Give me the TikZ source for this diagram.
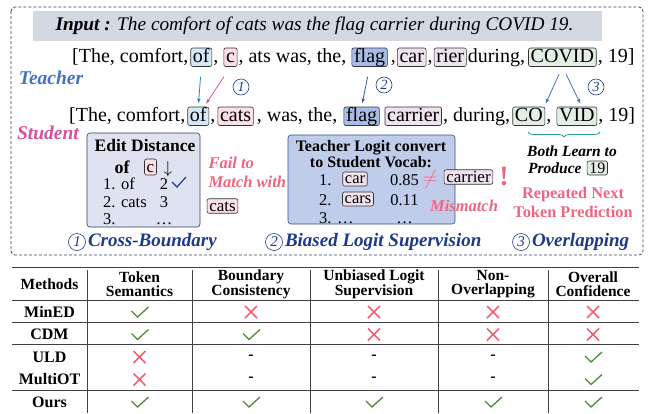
\documentclass[tikz,border=0pt]{standalone}
\usepackage{fontspec}
\setmainfont{Liberation Serif}
\usetikzlibrary{arrows.meta,positioning,decorations.pathreplacing}

\definecolor{framec}{HTML}{2F3D5E}
\definecolor{headc}{HTML}{D3D9E3}
\definecolor{teachc}{HTML}{4472C4}
\definecolor{studc}{HTML}{D94F9E}
\definecolor{ofc}{HTML}{D5E8F7}
\definecolor{cc}{HTML}{FCDFE8}
\definecolor{flagc}{HTML}{A8BDE6}
\definecolor{carc}{HTML}{EEE3EF}
\definecolor{covc}{HTML}{E2F0E3}
\definecolor{edfill}{HTML}{DFE3F1}
\definecolor{lgfill}{HTML}{BFCDEB}
\definecolor{warnc}{HTML}{F0657F}
\definecolor{capc}{HTML}{1D3A8A}
\definecolor{bracec}{HTML}{2AA08A}
\definecolor{yesc}{HTML}{4D8A3A}
\definecolor{noc}{HTML}{F0606E}

\begin{document}
\begin{tikzpicture}[x=1pt,y=-1pt,>={Latex[length=5pt,width=3.5pt]},
  tok/.style={draw=black!80,rounded corners=2pt,line width=0.6pt,inner xsep=2.2pt,inner ysep=1pt,text height=13pt,text depth=3.5pt},
  txt/.style={inner sep=0pt},
  rowtxt/.style={font=\fontsize{20}{22}\selectfont},
  circnum/.style={circle,draw=capc,text=capc,line width=0.6pt,inner sep=0pt,minimum size=16pt,font=\itshape\fontsize{14}{14}\selectfont},
  warn/.style={text=warnc,font=\bfseries\itshape\fontsize{16.5}{19}\selectfont,align=left},
  capt/.style={text=capc,font=\bfseries\itshape\fontsize{19}{20}\selectfont,inner sep=0pt},
  thead/.style={font=\bfseries\fontsize{15.5}{14}\selectfont,align=center,inner sep=0pt},
  yesmark/.style={yesc,line width=1.3pt},
  nomark/.style={noc,line width=1.5pt}]
\useasboundingbox (0,0) rectangle (650,413);

% dashed frame and input sentence
\draw[framec,dash pattern=on 3pt off 2pt,line width=0.8pt,rounded corners=4pt] (11,7) rectangle (643,255);
\fill[headc] (33,11) rectangle (602,41);
\node[font=\fontsize{19.3}{21}\selectfont] (inp) at (314.5,26) {\textbf{\textit{Input :}} \textit{The comfort of cats was the flag carrier during COVID 19.}};

% teacher tokens
\begin{scope}[every node/.append style={rowtxt}]
\node[txt,anchor=base west] (t0) at (72,62) {[The, comfort,};
\node[tok,fill=ofc,base right=2pt of t0] (t1) {of};
\node[txt,base right=1pt of t1] (t2) {,};
\node[tok,fill=cc,base right=5pt of t2] (t3) {c};
\node[txt,base right=1pt of t3] (t4) {, ats was, the,};
\node[tok,fill=flagc,base right=5pt of t4] (t5) {flag};
\node[txt,base right=3pt of t5] (t6) {,};
\node[tok,fill=carc,base right=1pt of t6] (t7) {car};
\node[txt,base right=1pt of t7] (t8) {,};
\node[tok,fill=carc,base right=1pt of t8] (t9) {rier};
\node[txt,base right=1pt of t9] (t10) {during,};
\node[tok,fill=covc,base right=3pt of t10] (t11) {COVID};
\node[txt,base right=1pt of t11] (t12) {, 19]};

% student tokens
\node[txt,anchor=base west] (s0) at (69,121) {[The, comfort,};
\node[tok,fill=ofc,base right=2pt of s0] (s1) {of};
\node[txt,base right=1pt of s1] (s2) {,};
\node[tok,fill=cc,base right=2pt of s2] (s3) {cats};
\node[txt,base right=3pt of s3] (s4) {, was, the,};
\node[tok,fill=flagc,base right=6pt of s4] (s5) {flag};
\node[tok,fill=carc,base right=5pt of s5] (s6) {carrier};
\node[txt,base right=1pt of s6] (s7) {, during,};
\node[tok,fill=covc,base right=2pt of s7] (s8) {CO};
\node[txt,base right=1pt of s8] (s9) {,};
\node[tok,fill=covc,base right=5pt of s9] (s10) {VID};
\node[txt,base right=1pt of s10] (s11) {, 19]};
\end{scope}

\node[text=teachc,font=\bfseries\itshape\fontsize{19.5}{20}\selectfont] (teach) at (51,78) {Teacher};
\node[text=studc,font=\bfseries\itshape\fontsize{19.5}{20}\selectfont] (stud) at (48,133) {Student};

% token mappings
\draw[->,cyan!70!blue,thick,shorten <=10pt,shorten >=3pt] (t1.south) -- (s1.north);
\draw[->,studc,thick,shorten <=12pt,shorten >=3pt] (t3.south) -- ([xshift=-5pt]s1.north east);
\draw[->,teachc!80!black,thick,shorten <=10pt,shorten >=3pt] (t5.south) -- (s5.north);
\draw[->,teachc,thick,shorten <=8pt,shorten >=3pt] (t11.south) -- ([xshift=-1pt]s8.north east);
\draw[->,teachc,thick,shorten <=8pt,shorten >=3pt] (t11.south) -- ([xshift=5pt]s10.north);
\node[circnum] (n1) at (241,87) {1};
\node[circnum] (n2) at (384,85) {2};
\node[circnum] (n3) at (596,87) {3};

% edit distance box
\draw[framec,fill=edfill,rounded corners=3pt,line width=0.6pt] (87,133) rectangle (200,227);
\node[font=\bfseries\fontsize{17.5}{20}\selectfont,inner sep=0pt] (edt) at (145,146) {Edit Distance};
\node[font=\bfseries\fontsize{18}{20}\selectfont,inner sep=0pt] (edof) at (122,167) {of};
\node[tok,fill=cc,font=\fontsize{17}{20}\selectfont,text height=12pt,text depth=2pt] (edc) at (150.5,167) {c};
\node[font=\fontsize{17}{17}\selectfont,inner sep=0pt] (edarr) at (168,169) {$\downarrow$};
\begin{scope}[every node/.append style={font=\fontsize{16.5}{20}\selectfont,inner sep=0pt}]
\node[anchor=base west] (ed1) at (103,189) {1. of};
\node[anchor=base west] (ed2) at (103,207) {2. cats};
\node[anchor=base west] (ed3) at (103,224) {3.};
\node[anchor=base] (ed1v) at (164,189) {2};
\node[anchor=base] (ed2v) at (164,207) {3};
\node[anchor=base] (ed3v) at (164,224) {\dots};
\end{scope}
\draw[capc,line width=1.2pt] (172,182) -- (177,187) -- (186,177);
\node[warn,anchor=west] (fail) at (205,172) {Fail to\\Match with};
\node[tok,fill=cc,font=\fontsize{17}{20}\selectfont,text height=11.5pt,text depth=1pt] (fcats) at (222.5,206) {cats};

% logit box
\draw[teachc!70!black,fill=lgfill,rounded corners=3pt,line width=0.6pt] (288,135) rectangle (455,224);
\node[font=\bfseries\fontsize{16}{16}\selectfont,align=center] (lgt) at (371,154) {Teacher Logit convert\\to Student Vocab:};
\begin{scope}[every node/.append style={font=\fontsize{16.5}{20}\selectfont}]
\node[inner sep=0pt,anchor=base west] (lg1) at (319,185) {1.};
\node[inner sep=0pt,anchor=base west] (lg2) at (319,205) {2.};
\node[inner sep=0pt,anchor=base west] (lg3) at (319,223) {3. \dots};
\node[tok,fill=carc,text height=10pt,text depth=2pt] (lcar) at (355,179) {car};
\node[tok,fill=carc,text height=10pt,text depth=2pt] (lcars) at (358,199) {cars};
\node[inner sep=0pt,anchor=base] (lgv1) at (404.5,185) {0.85};
\node[inner sep=0pt,anchor=base] (lgv2) at (404.5,205) {0.11};
\node[inner sep=0pt,anchor=base] (lgv3) at (404.5,223) {\dots};
\end{scope}
\node[text=warnc,font=\fontsize{20}{20}\selectfont] (neq) at (430,179) {$\neq$};
\node[tok,fill=carc,font=\fontsize{17}{20}\selectfont,text height=11.5pt,text depth=1pt] (lcarrier) at (468.5,177) {carrier};
\node[text=warnc,font=\bfseries\fontsize{28}{28}\selectfont] (bang) at (504,177) {!};
\node[warn] (mism) at (464,206) {Mismatch};

% overlapping note
\draw[bracec,line width=0.8pt,decorate,decoration={brace,amplitude=5pt,mirror}] (528,132) -- (600,132);
\node[font=\bfseries\itshape\fontsize{15.5}{17}\selectfont] (both) at (572,151) {Both Learn to};
\node[font=\bfseries\itshape\fontsize{15.5}{17}\selectfont,anchor=west,inner sep=0pt] (prod) at (528,168) {Produce};
\node[tok,fill=covc,font=\fontsize{16}{17}\selectfont,text height=11pt,text depth=1pt,right=5pt of prod] (p19) {19};
\node[text=warnc,font=\bfseries\fontsize{16.3}{19}\selectfont,align=center] (rep) at (573,202) {Repeated Next\\Token Prediction};

% captions
\node[circnum,minimum size=17pt,font=\itshape\fontsize{15}{15}\selectfont] (c1) at (77,242) {1};
\node[capt,anchor=west] (cap1) at ([xshift=2pt]c1.east) {Cross-Boundary};
\node[circnum,minimum size=17pt,font=\itshape\fontsize{15}{15}\selectfont] (c2) at (274,242) {2};
\node[capt,anchor=west] (cap2) at ([xshift=2pt]c2.east) {Biased Logit Supervision};
\node[circnum,minimum size=17pt,font=\itshape\fontsize{15}{15}\selectfont] (c3) at (521,242) {3};
\node[capt,anchor=west] (cap3) at ([xshift=2pt]c3.east) {Overlapping};

% comparison table
\draw[line width=1pt,black!75] (12,267) -- (639,267);
\draw[line width=0.6pt,black!75] (12,300) -- (639,300);
\foreach \ly in {322,344,390}
  \draw[line width=0.6pt,black!75] (12,\ly) -- (639,\ly);
\foreach \lx in {87,192,310,438,548}
  \draw[line width=0.6pt,black!75] (\lx,270) -- (\lx,413);
\node[thead] (h0) at (49.5,284) {Methods};
\node[thead] (h1) at (139.5,284) {Token\\Semantics};
\node[thead] (h2) at (251,284) {Boundary\\Consistency};
\node[thead] (h3) at (374,284) {Unbiased Logit\\Supervision};
\node[thead] (h4) at (493,284) {Non-\\Overlapping};
\node[thead] (h5) at (593,284) {Overall\\Confidence};

\foreach \meth/\a/\b/\c/\d/\e [count=\i] in {MinED/1/0/0/0/0,CDM/1/1/0/0/0,ULD/0/2/2/2/1,MultiOT/0/2/2/2/1,Ours/1/1/1/1/1}{
  \pgfmathsetmacro{\ry}{312+22.5*(\i-1)}
  \node[thead,font=\bfseries\fontsize{16}{16}\selectfont] (m\i) at (49.5,\ry) {\meth};
  \foreach \v [count=\j] in {\a,\b,\c,\d,\e}{
    \pgfmathsetmacro{\cx}{{139.5,251,374,493,593}[\j-1]}
    \ifcase\v
      \draw[nomark] (\cx-6,\ry-6) -- (\cx+6,\ry+6) (\cx-6,\ry+6) -- (\cx+6,\ry-6);
    \or
      \draw[yesmark] (\cx-8,\ry-1) -- (\cx-2,\ry+5) -- (\cx+9,\ry-5);
    \or
      \node[font=\bfseries\fontsize{16}{16}\selectfont] (d\i\j) at (\cx,\ry) {-};
    \fi
  }
}

\end{tikzpicture}
\end{document}
